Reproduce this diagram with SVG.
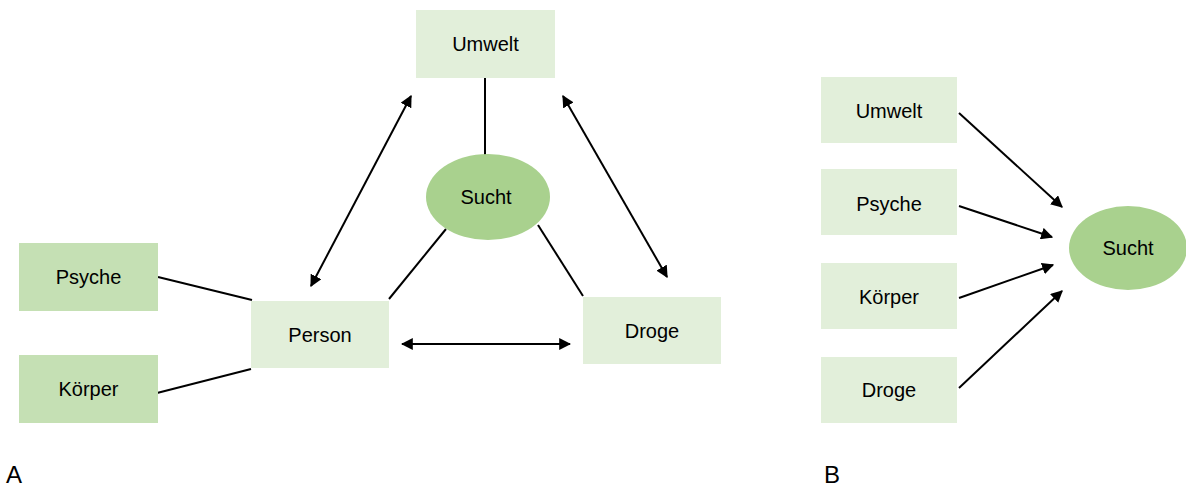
<svg xmlns="http://www.w3.org/2000/svg" width="1186" height="488" viewBox="0 0 1186 488">
<style>
.lt{fill:#E2EFDA}
.md{fill:#C5E0B4}
.el{fill:#A9D18E}
text{font-family:"Liberation Sans",Arial,sans-serif;font-size:20px;fill:#000;text-anchor:middle;dominant-baseline:central}
.lbl{font-size:24px;text-anchor:start;dominant-baseline:auto}
.ln{stroke:#000;stroke-width:2;fill:none}
</style>
<defs>
<marker id="ah" viewBox="0 0 10 10" refX="9" refY="5" markerWidth="6" markerHeight="6" orient="auto-start-reverse">
<path d="M0,0 L10,5 L0,10 z" fill="#000"/>
</marker>
</defs>
<g id="connectors">
<line class="ln" x1="158" y1="277" x2="252" y2="300"/>
<line class="ln" x1="157" y1="393" x2="251" y2="369"/>
<line class="ln" x1="485" y1="78" x2="485" y2="155"/>
<line class="ln" x1="446" y1="229" x2="389" y2="299"/>
<line class="ln" x1="538" y1="225" x2="583" y2="296"/>
<line class="ln" x1="311" y1="286" x2="411" y2="96" marker-start="url(#ah)" marker-end="url(#ah)"/>
<line class="ln" x1="563" y1="96" x2="667" y2="277" marker-start="url(#ah)" marker-end="url(#ah)"/>
<line class="ln" x1="402" y1="344" x2="570" y2="344" marker-start="url(#ah)" marker-end="url(#ah)"/>
<line class="ln" x1="959" y1="113" x2="1062" y2="207" marker-end="url(#ah)"/>
<line class="ln" x1="959" y1="206" x2="1052" y2="237" marker-end="url(#ah)"/>
<line class="ln" x1="959" y1="298" x2="1053" y2="265" marker-end="url(#ah)"/>
<line class="ln" x1="959" y1="388" x2="1062" y2="291" marker-end="url(#ah)"/>
</g>
<g id="a-psyche"><rect class="md" x="19" y="243" width="139" height="68"/><text x="88.5" y="277">Psyche</text></g>
<g id="a-koerper"><rect class="md" x="19" y="355" width="139" height="68"/><text x="88.5" y="389">Körper</text></g>
<g id="a-person"><rect class="lt" x="251" y="301" width="138" height="67"/><text x="320" y="335">Person</text></g>
<g id="a-umwelt"><rect class="lt" x="416" y="10" width="139" height="68"/><text x="485.5" y="44">Umwelt</text></g>
<g id="a-droge"><rect class="lt" x="583" y="297" width="138" height="67"/><text x="652" y="331">Droge</text></g>
<g id="a-sucht"><ellipse class="el" cx="488" cy="197" rx="62" ry="43"/><text x="486" y="197">Sucht</text></g>
<g id="b-umwelt"><rect class="lt" x="821" y="77" width="136" height="66"/><text x="889" y="111">Umwelt</text></g>
<g id="b-psyche"><rect class="lt" x="821" y="169" width="136" height="66"/><text x="889" y="204">Psyche</text></g>
<g id="b-koerper"><rect class="lt" x="821" y="263" width="136" height="66"/><text x="889" y="297">Körper</text></g>
<g id="b-droge"><rect class="lt" x="821" y="357" width="136" height="66"/><text x="889" y="390">Droge</text></g>
<g id="b-sucht"><ellipse class="el" cx="1128" cy="248" rx="59" ry="42"/><text x="1128" y="248">Sucht</text></g>
<text class="lbl" x="6" y="483">A</text>
<text class="lbl" x="824" y="483">B</text>
</svg>
